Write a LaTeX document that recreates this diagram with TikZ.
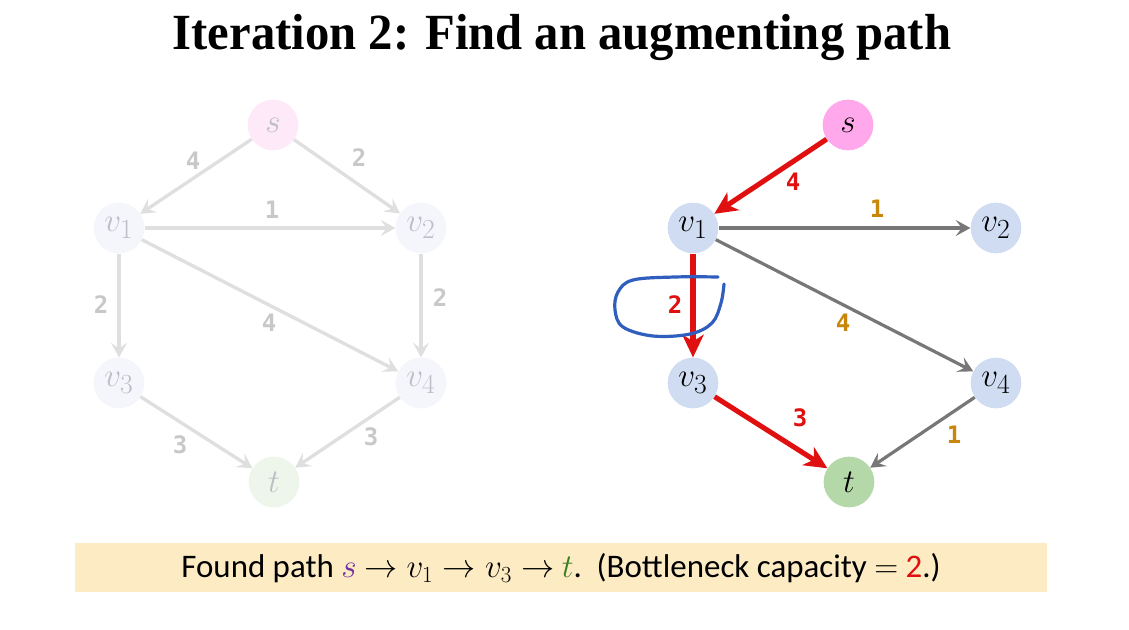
\documentclass[tikz,border=0pt]{standalone}
\usepackage{fontspec}
\setmainfont{Liberation Serif}
\newfontfamily\lblfont{DejaVu Sans Mono}
\newfontfamily\boxfont{Carlito}
\usetikzlibrary{arrows.meta}
\definecolor{fadeS}{HTML}{FDE9F8}
\definecolor{fadeV}{HTML}{F5F6FB}
\definecolor{fadeT}{HTML}{EEF6EC}
\definecolor{fadeE}{HTML}{E0DFE0}
\definecolor{fadeL}{HTML}{C8C8C8}
\definecolor{fadeTxt}{HTML}{BEBEC6}
\definecolor{sPink}{HTML}{FFA8EC}
\definecolor{vBlue}{HTML}{D0DCF1}
\definecolor{tGreen}{HTML}{B5D8A8}
\definecolor{redE}{HTML}{E01010}
\definecolor{grayE}{HTML}{777777}
\definecolor{orangeL}{HTML}{C8860A}
\definecolor{penBlue}{HTML}{2F5EBE}
\definecolor{boxFill}{HTML}{FDEBC4}
\definecolor{sPurple}{HTML}{7030A0}
\definecolor{tDark}{HTML}{3B7D23}
\begin{document}
\begin{tikzpicture}[x=0.75pt,y=-0.75pt,
  vert/.style={circle,minimum size=38pt,inner sep=0pt,font=\fontsize{28}{28}\selectfont},
  fvert/.style={vert,text=fadeTxt},
  fedge/.style={draw=fadeE,line width=2.5pt,-{Stealth[length=11pt,width=12pt,inset=4.5pt]}},
  gedge/.style={draw=grayE,line width=2.4pt,-{Stealth[length=11pt,width=12pt,inset=4.5pt]}},
  redge/.style={draw=redE,line width=3.8pt,-{Stealth[length=17pt,width=16pt,inset=5pt]}},
  lbl/.style={font=\lblfont\bfseries\fontsize{18}{18}\selectfont,inner sep=0pt},
  flbl/.style={lbl,text=fadeL},
  rlbl/.style={lbl,text=redE},
  olbl/.style={lbl,text=orangeL}]
\useasboundingbox (0,0) rectangle (1129,630);
\fill[white] (0,0) rectangle (1129,630);
% title
\node[font=\bfseries\fontsize{38}{38}\selectfont,inner sep=0pt] (title) at (562,38) {\scalebox{0.96}[1]{Iteration 2: Find an augmenting path}};
% left faded graph
\node[fvert,fill=fadeS] (ls) at (273,125) {$s$};
\node[fvert,fill=fadeV] (lv1) at (119,228) {$v_1$};
\node[fvert,fill=fadeV] (lv2) at (421,228) {$v_2$};
\node[fvert,fill=fadeV] (lv3) at (119,383) {$v_3$};
\node[fvert,fill=fadeV] (lv4) at (421,383) {$v_4$};
\node[fvert,fill=fadeT] (lt) at (274,482) {$t$};
\draw[fedge] (ls) -- (lv1);
\draw[fedge] (ls) -- (lv2);
\draw[fedge] (lv1) -- (lv2);
\draw[fedge] (lv1) -- (lv3);
\draw[fedge] (lv1) -- (lv4);
\draw[fedge] (lv2) -- (lv4);
\draw[fedge] (lv3) -- (lt);
\draw[fedge] (lv4) -- (lt);
\node[flbl] (la) at (193,161) {4};
\node[flbl] (lb) at (359,158) {2};
\node[flbl] (lc) at (272,210) {1};
\node[flbl] (ld) at (101,305) {2};
\node[flbl] (le) at (269,323) {4};
\node[flbl] (lf) at (440,298) {2};
\node[flbl] (lg) at (180,445) {3};
\node[flbl] (lh) at (371,437) {3};
% right graph
\node[vert,fill=sPink] (rs) at (848,125) {$s$};
\node[vert,fill=vBlue] (rv1) at (693,228) {$v_1$};
\node[vert,fill=vBlue] (rv2) at (996,228) {$v_2$};
\node[vert,fill=vBlue] (rv3) at (693,383) {$v_3$};
\node[vert,fill=vBlue] (rv4) at (996,383) {$v_4$};
\node[vert,fill=tGreen] (rt) at (849,482) {$t$};
\draw[gedge] (rv1) -- (rv2);
\draw[gedge] (rv1) -- (rv4);
\draw[gedge] (rv4) -- (rt);
\draw[redge] (rs) -- (rv1);
\draw[redge] (rv1) -- (rv3);
\draw[redge] (rv3) -- (rt);
\node[rlbl] (ra) at (793,182) {4};
\node[olbl] (rb) at (877,209) {1};
\node[rlbl] (rc) at (675,305) {2};
\node[olbl] (rd) at (843,323) {4};
\node[rlbl] (re) at (800,418) {3};
\node[olbl] (rf) at (954,435) {1};
% hand-drawn loop
\draw[penBlue,line width=2.4pt,line cap=round,line join=round]
  plot[smooth,tension=0.6] coordinates {(718,277) (675,277) (633,280) (618,292) (615,310) (623,327) (653,336) (690,334) (712,323) (721,303) (724,284)};
% bottom box
\fill[boxFill] (75,543) rectangle (1047,592);
\node[font=\boxfont\fontsize{24.7}{24.7}\selectfont,inner sep=0pt] (cap) at (561,568)
  {Found path \textcolor{sPurple}{$s$} $\to v_1 \to v_3 \to$ \textcolor{tDark}{$t$}.\ \ (Bottleneck capacity $=$ \textcolor{redE}{2}.)};
\end{tikzpicture}
\end{document}
